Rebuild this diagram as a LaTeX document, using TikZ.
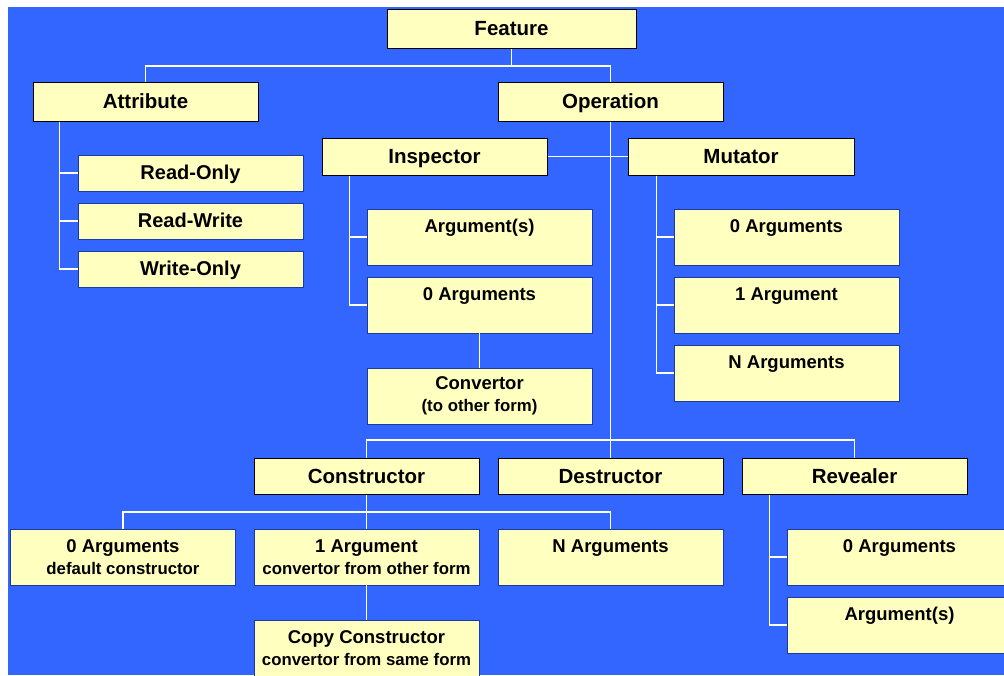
\documentclass[tikz,border=0pt]{standalone}
\usepackage{fontspec}
\setmainfont{Liberation Sans}
\definecolor{bgblue}{HTML}{3366FF}
\definecolor{boxyel}{HTML}{FFFFC0}
\definecolor{subedge}{HTML}{1A3A9E}
\newcommand{\minor}[1]{{\fontsize{16.8}{22}\selectfont #1}}

\begin{document}
\begin{tikzpicture}[x=1pt, y=-1pt,
    head/.style={draw=black, line width=1pt, fill=boxyel, minimum width=225pt, minimum height=37pt, inner sep=0pt, text height=14.6pt, text depth=0.4pt, font=\fontsize{20.5}{24}\selectfont\bfseries},
    sub/.style={draw=subedge, line width=0.8pt, fill=boxyel, minimum width=225pt, minimum height=56pt, inner sep=0pt, align=center, font=\fontsize{18.5}{22}\selectfont\bfseries},
    leaf/.style={draw=subedge, line width=0.8pt, fill=boxyel, minimum width=225pt, minimum height=36pt, inner sep=0pt, text height=14.2pt, text depth=0.4pt, font=\fontsize{20}{24}\selectfont\bfseries},
    link/.style={draw=white, line width=1.5pt}
]
\useasboundingbox (0,0) rectangle (1004,675);
\clip (0,0) rectangle (1004,675);
\fill[white] (0,0) rectangle (1004,675);
\fill[bgblue] (8,7) rectangle (1004,675);

% top levels
\node[head, minimum width=249pt, minimum height=39pt] (feat) at (511.5,28.5) {Feature};
\node[head, minimum height=39pt] (attr) at (145.5,101.5) {Attribute};
\node[head, minimum height=39pt] (oper) at (610.5,101.5) {Operation};

% attribute kinds
\node[leaf] (ronly) at (190.5,173) {Read-Only};
\node[leaf] (rwrite) at (190.5,221) {Read-Write};
\node[leaf] (wonly) at (190.5,269) {Write-Only};

% inspector / mutator
\node[head] (insp) at (434.5,156.5) {Inspector};
\node[head, minimum width=226pt] (mut) at (741,156.5) {Mutator};
\node[sub] (inargs) at (479.5,237) {Argument(s)\\~};
\node[sub] (inzero) at (479.5,305) {0 Arguments\\~};
\node[sub] (conv) at (479.5,396) {Convertor\\\minor{(to other form)}};
\node[sub] (mzero) at (786.5,237) {0 Arguments\\~};
\node[sub] (mone) at (786.5,305) {1 Argument\\~};
\node[sub] (mmany) at (786.5,373) {N Arguments\\~};

% lifecycle
\node[head, minimum height=36pt] (cons) at (366.5,476) {Constructor};
\node[head, minimum height=36pt] (dest) at (610.5,476) {Destructor};
\node[head, minimum height=36pt] (rev) at (854.5,476) {Revealer};
\node[sub] (czero) at (123,557) {0 Arguments\\\minor{default constructor}};
\node[sub] (cone) at (366.5,557) {1 Argument\\\minor{convertor from other form}};
\node[sub] (cmany) at (610.5,557) {N Arguments\\~};
\node[sub] (ccopy) at (366.5,648) {Copy Constructor\\\minor{convertor from same form}};
\node[sub] (rzero) at (899.5,557) {0 Arguments\\~};
\node[sub] (rargs) at (899.5,625) {Argument(s)\\~};

% connectors
\coordinate (busA) at (0,66);
\coordinate (busB) at (0,440);
\coordinate (busC) at (0,512);
\draw[link] (feat.south) -- (feat.south |- busA);
\draw[link] (attr.north) |- (busA -| oper.north) -- (oper.north);
\foreach \kid in {ronly,rwrite,wonly}
  \draw[link] ([xshift=27pt]attr.south west) |- (\kid.west);
\draw[link] (oper.south) -- (dest.north);
\draw[link] (insp.east) -- (mut.west);
\foreach \kid in {inargs,inzero}
  \draw[link] ([xshift=28pt]insp.south west) |- (\kid.west);
\draw[link] (inzero.south) -- (conv.north);
\foreach \kid in {mzero,mone,mmany}
  \draw[link] ([xshift=29pt]mut.south west) |- (\kid.west);
\draw[link] (cons.north) |- (busB -| rev.north) -- (rev.north);
\draw[link] (cons.south) -- (cone.north);
\draw[link] (czero.north) |- (busC -| cmany.north) -- (cmany.north);
\draw[link] (cone.south) -- (ccopy.north);
\foreach \kid in {rzero,rargs}
  \draw[link] ([xshift=28pt]rev.south west) |- (\kid.west);
\end{tikzpicture}
\end{document}
